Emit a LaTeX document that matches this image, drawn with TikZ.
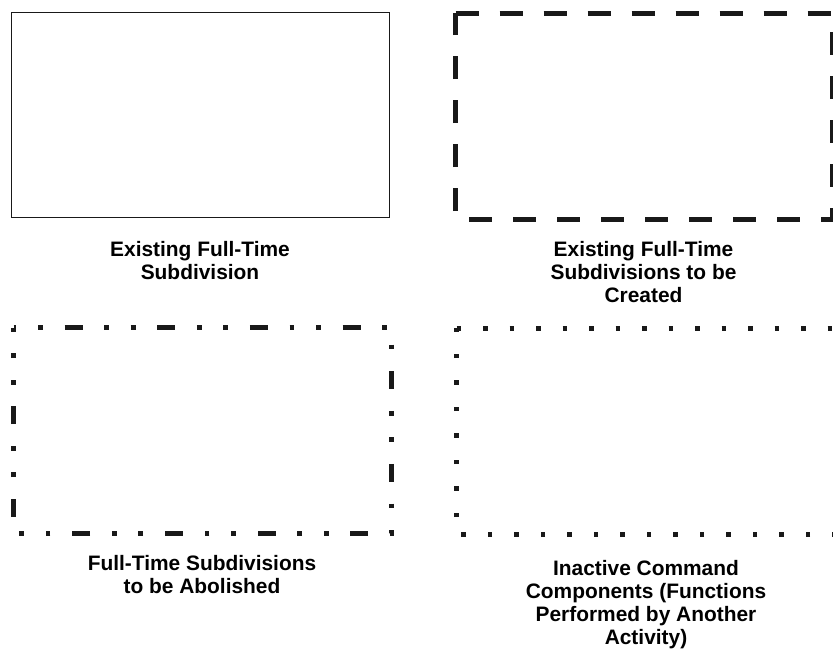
\documentclass[tikz,border=0pt]{standalone}
\usepackage{fontspec}
\setmainfont{Liberation Sans}
\begin{document}
\begin{tikzpicture}[x=1pt,y=-1pt,
  ink/.style={draw=black!90},
  boxsolid/.style={ink,line width=1pt},
  boxdashed/.style={ink,line width=5pt,dash pattern=on 23pt off 21pt},
  boxdashdot/.style={ink,line width=5pt,
    dash pattern=on 4.8pt off 21.7pt on 4.8pt off 21.7pt on 18pt off 21.7pt,
    dash phase=2pt},
  boxdotted/.style={ink,line width=5pt,dash pattern=on 4.7pt off 21.8pt},
  caption/.style={anchor=north,inner sep=0pt,align=center,
    font=\fontsize{20.9}{23}\selectfont\bfseries,text=black}]
  \useasboundingbox (0,0) rectangle (833,649);

  % existing subdivision: plain thin frame
  \draw[boxsolid] (11,12) -- (389.3,12) -- (389.3,217.7) -- (11,217.7) -- cycle;
  % subdivisions to be created: long dashes
  \draw[boxdashed] (455.5,13) -- (832.5,13) -- (832.5,219) -- (455.5,219) -- cycle;
  % subdivisions to be abolished: dash-dot-dot
  \draw[boxdashdot] (13.5,327.5) -- (391.7,327.5) -- (391.7,533) -- (13.5,533) -- cycle;
  % inactive components: square dots
  \draw[boxdotted] (456.5,328.3) -- (835,328.3) -- (835,534.5) -- (456.5,534.5) -- cycle;

  \node[caption] (lblexisting) at (200,240.8) {Existing Full-Time\\Subdivision};
  \node[caption] (lblcreated) at (643.5,240.8) {Existing Full-Time\\Subdivisions to be\\Created};
  \node[caption] (lblabolished) at (202,555.2) {Full-Time Subdivisions\\to be Abolished};
  \node[caption] (lblinactive) at (646,560.3) {Inactive Command\\Components (Functions\\Performed by Another\\Activity)};
\end{tikzpicture}
\end{document}
